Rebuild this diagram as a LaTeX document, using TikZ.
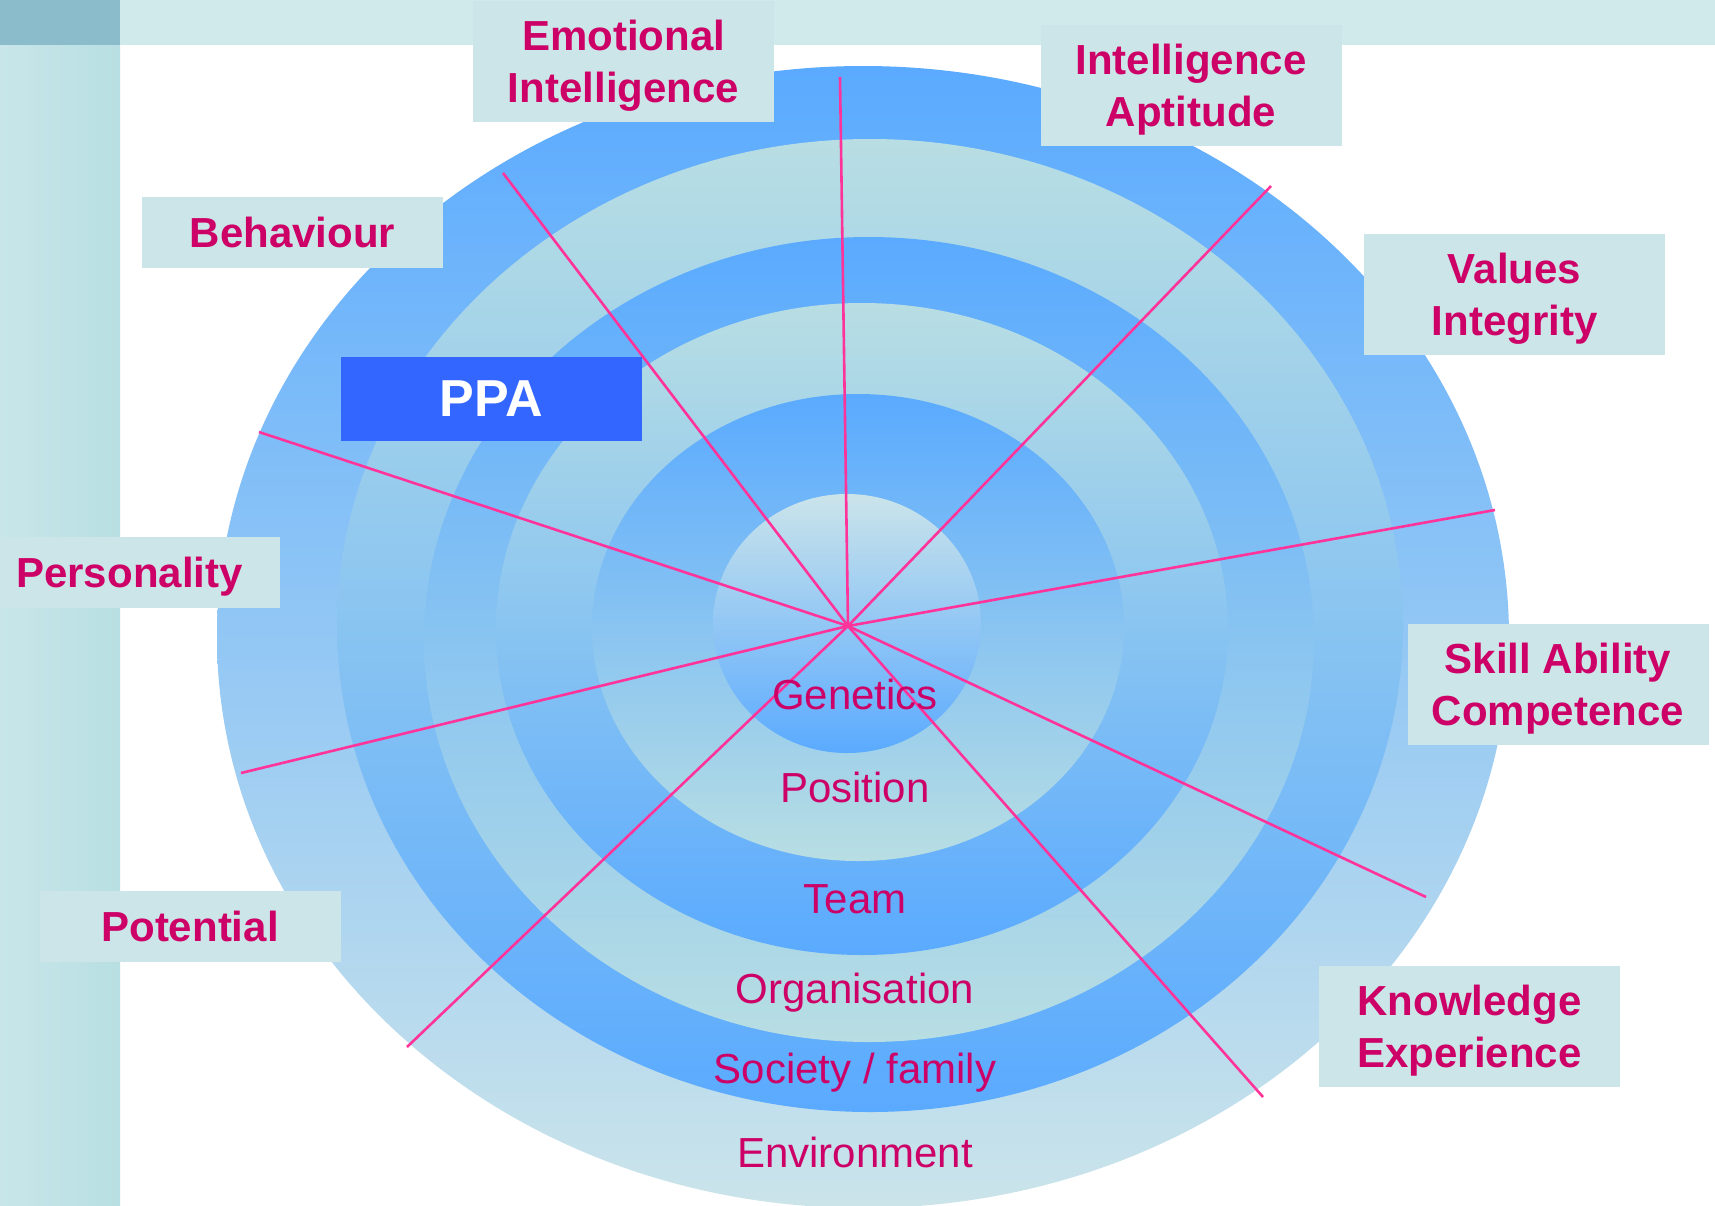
\documentclass[tikz,border=0pt]{standalone}
\usepackage{fontspec}
\setmainfont{Liberation Sans}
\definecolor{bluec}{RGB}{90,170,255}
\definecolor{lightc}{RGB}{184,222,227}
\definecolor{lightb}{RGB}{203,228,234}
\definecolor{boxc}{RGB}{204,229,232}
\definecolor{barc}{RGB}{208,233,235}
\definecolor{cornerc}{RGB}{139,188,204}
\definecolor{pinkt}{RGB}{204,0,102}
\definecolor{rayc}{RGB}{255,51,153}
\definecolor{ppac}{RGB}{51,102,255}
\definecolor{leftA}{RGB}{200,230,233}
\definecolor{leftB}{RGB}{184,223,227}
\begin{document}
\begin{tikzpicture}[x=1pt,y=-1pt,
  bluetop/.style={top color=bluec,bottom color=lightc},
  lighttop/.style={top color=lightc,bottom color=bluec},
  lab/.style={fill=boxc,text=pinkt,font=\fontsize{42}{52}\selectfont\bfseries,
    align=center,minimum width=301pt,inner sep=0pt,text depth=0pt},
  lab1/.style={lab,minimum height=71pt},
  lab2/.style={lab,minimum height=121pt},
  ring/.style={text=pinkt,font=\fontsize{42}{49}\selectfont,anchor=base,inner sep=0pt},
  ray/.style={draw=rayc,line width=2.6pt}
]
\useasboundingbox (0,0) rectangle (1715,1205);
\fill[white] (0,0) rectangle (1715,1205);
% frame bars
\fill[barc] (0,0) rectangle (1715,45);
\shade[left color=leftA,right color=leftB] (0,45) rectangle (120,1205);
\fill[cornerc] (0,0) rectangle (120,45);
% rings
\shade[top color=bluec,bottom color=lightb] (863,637) ellipse [x radius=646pt,y radius=571pt];
\shade[lighttop] (870,625.5) ellipse [x radius=533pt,y radius=486.5pt];
\shade[bluetop] (869,639.5) ellipse [x radius=445pt,y radius=402.5pt];
\shade[lighttop] (862,629) ellipse [x radius=366pt,y radius=326pt];
\shade[bluetop] (858,627.5) ellipse [x radius=266pt,y radius=233.5pt];
\shade[top color=lightb,middle color={rgb,255:red,166;green,204;blue,240},bottom color=bluec] (847,623.5) ellipse [x radius=134pt,y radius=129.5pt];
% rays
\coordinate (C) at (848,626);
\coordinate (r1) at (840,77);
\coordinate (r2) at (503,173);
\coordinate (r3) at (1271,186);
\coordinate (r4) at (259,432);
\coordinate (r5) at (1495,510);
\coordinate (r6) at (241,773);
\coordinate (r7) at (407,1047);
\coordinate (r8) at (1263,1097);
\coordinate (r9) at (1426,897);
\foreach \r in {r1,r2,r3,r4,r5,r6,r7,r8,r9} \draw[ray] (C) -- (\r);
% ring texts
\node[ring] (gen) at (855,709) {Genetics};
\node[ring] (pos) at (855,802) {Position};
\node[ring] (team) at (855,913) {Team};
\node[ring] (org) at (855,1003) {Organisation};
\node[ring] (soc) at (855,1083) {Society / family};
\node[ring] (env) at (855,1167) {Environment};
% labels
\node[lab2] (ei) at (623.5,61.5) {Emotional\\Intelligence};
\node[lab2] (ia) at (1191,85) {Intelligence\\Aptitude};
\node[lab1] (beh) at (292.5,232.5) {Behaviour};
\node[lab2] (vi) at (1514.5,294.5) {Values\\Integrity};
\node[lab1] (pers) at (129.5,572) {Personality};
\node[lab2] (sac) at (1558,684) {Skill Ability\\Competence};
\node[lab1] (pot) at (190,926.5) {Potential};
\node[lab2] (ke) at (1469.5,1026.5) {Knowledge\\Experience};
\node[fill=ppac,text=white,font=\fontsize{52}{60}\selectfont\bfseries,
  minimum width=301pt,minimum height=84pt,inner sep=0pt,text depth=0pt] (ppa) at (491.5,399) {PPA};
\end{tikzpicture}
\end{document}
